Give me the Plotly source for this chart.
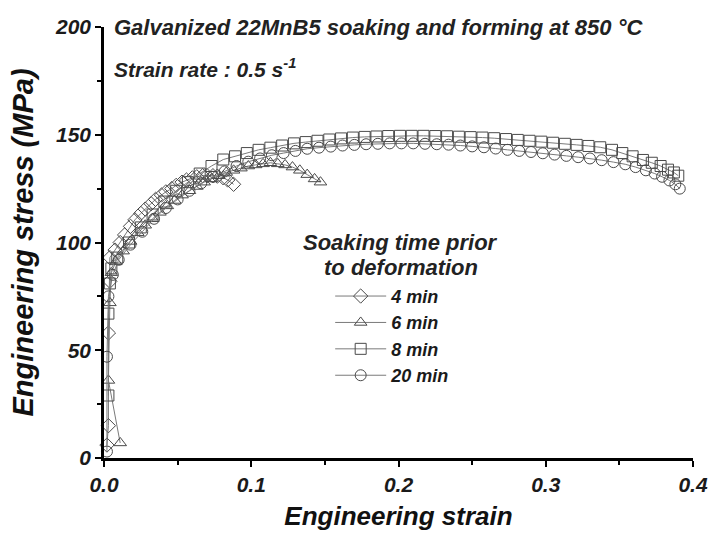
import plotly.graph_objects as go

# ---- data ----
strain_4 = [0.002, 0.003, 0.003, 0.004, 0.004, 0.0075, 0.011, 0.014, 0.018, 0.021,
            0.025, 0.028, 0.032, 0.035, 0.039, 0.042, 0.046, 0.049, 0.053, 0.056,
            0.060, 0.063, 0.067, 0.070, 0.074, 0.077, 0.081, 0.084, 0.088]
stress_4 = [6, 15, 58, 82, 93, 96.5, 100, 103.5, 107.5, 110.5,
            113.5, 115.5, 118, 120, 122, 123.5, 125, 126.5, 128, 129,
            130, 130.5, 131, 131, 131, 130.8, 130, 129, 127]

strain_6 = [0.011, 0.003, 0.004, 0.005,
            0.008, 0.013, 0.018, 0.023, 0.028, 0.033, 0.038, 0.043, 0.048, 0.053,
            0.058, 0.063, 0.068, 0.073, 0.078, 0.083, 0.088, 0.093, 0.098, 0.103,
            0.108, 0.113, 0.118, 0.123, 0.128, 0.133, 0.138, 0.143, 0.147]
stress_6 = [7, 36, 72, 86,
            91, 96, 100.5, 104.5, 108, 111, 114, 117, 119.5, 122,
            124, 126, 128, 129.5, 131, 132.5, 133.5, 134.5, 135.5, 136,
            136.5, 137, 136.5, 136, 135, 133.5, 131.5, 129.5, 128]

strain_8 = [0.003, 0.003, 0.004, 0.005,
            0.009, 0.017, 0.025, 0.033, 0.041, 0.049, 0.057, 0.065, 0.073, 0.081,
            0.089, 0.097, 0.105, 0.113, 0.121, 0.129, 0.137, 0.145, 0.153, 0.161,
            0.169, 0.177, 0.185, 0.193, 0.201, 0.209, 0.217, 0.225, 0.233, 0.241,
            0.249, 0.257, 0.265, 0.273, 0.281, 0.289, 0.297, 0.305, 0.313, 0.321,
            0.329, 0.337, 0.345, 0.352, 0.359, 0.366, 0.372, 0.378, 0.383, 0.387, 0.390]
stress_8 = [29, 67, 81, 88,
            93, 100, 107, 113, 119, 124, 128, 132, 135.5, 138.5,
            140, 141.5, 143, 144, 145, 146, 146.6, 147.2, 147.8, 148.3,
            148.7, 149, 149.2, 149.4, 149.5, 149.5, 149.5, 149.4, 149.3, 149.1,
            148.9, 148.7, 148.4, 148, 147.6, 147.2, 146.8, 146.3, 145.8, 145.3,
            144.8, 144.2, 143, 141.5, 140, 138.3, 137, 135.5, 133.8, 132.5, 131]

strain_20 = [0.002, 0.002, 0.003, 0.006,
             0.010, 0.018, 0.026, 0.034, 0.042, 0.050, 0.058, 0.066, 0.074, 0.082,
             0.090, 0.098, 0.106, 0.114, 0.122, 0.130, 0.138, 0.146, 0.154, 0.162,
             0.170, 0.178, 0.186, 0.194, 0.202, 0.210, 0.218, 0.226, 0.234, 0.242,
             0.250, 0.258, 0.266, 0.274, 0.282, 0.290, 0.298, 0.306, 0.314, 0.322,
             0.330, 0.338, 0.346, 0.354, 0.361, 0.368, 0.374, 0.379, 0.384, 0.388, 0.391]
stress_20 = [3, 47, 75, 85,
             92, 99, 105, 111, 116, 120, 124, 127.5, 130.5, 133,
             135.5, 137.5, 139, 140.5, 141.5, 142.5, 143.5, 144, 144.5, 145,
             145.3, 145.6, 145.8, 146, 146, 146, 145.8, 145.6, 145.4, 145,
             144.6, 144.2, 143.6, 143, 142.5, 142, 141.4, 140.8, 140.2, 139.6,
             139, 138.2, 137.3, 136.3, 135, 133.5, 132, 130.5, 128.8, 127, 125]

series_names = ["4 min", "6 min", "8 min", "20 min"]
series_symbols = ["diamond-open", "triangle-up-open", "square-open", "circle-open"]
x_ticks = [0.0, 0.1, 0.2, 0.3, 0.4]
x_ticktext = ["0.0", "0.1", "0.2", "0.3", "0.4"]
y_ticks = [0, 50, 100, 150, 200]

FONT = "Liberation Sans, Arial, sans-serif"
MK = "#4a4a4a"

fig = go.Figure()
for i, (xs, ys) in enumerate([(strain_4, stress_4), (strain_6, stress_6),
                              (strain_8, stress_8), (strain_20, stress_20)]):
    fig.add_trace(go.Scatter(
        x=xs, y=ys, name=series_names[i], mode="lines+markers",
        line=dict(color="#7a7a7a", width=1),
        marker=dict(symbol=series_symbols[i], size=11, color=MK,
                    line=dict(color=MK, width=1)),
        cliponaxis=False,
    ))

def bi(size, color="#1a1a1a"):
    return dict(family=FONT, size=size, color=color, weight="bold", style="italic")

fig.update_layout(
    width=713, height=534,
    margin=dict(l=104, r=20, t=27, b=76, autoexpand=False),
    paper_bgcolor="white", plot_bgcolor="white",
    showlegend=True,
    legend=dict(x=0.384, y=0.418, xanchor="left", yanchor="top",
                bgcolor="rgba(0,0,0,0)", itemwidth=51, tracegroupgap=0,
                font=bi(18)),
    xaxis=dict(range=[0, 0.4], tickvals=x_ticks, ticktext=x_ticktext, automargin=False,
               showgrid=False, zeroline=False, showline=True, linewidth=2.5,
               linecolor="black", ticks="outside", ticklen=6, tickwidth=2,
               tickcolor="black", tickfont=bi(21),
               minor=dict(dtick=0.05, ticks="outside", ticklen=4, tickwidth=2, tickcolor="black"),
               title=dict(text="Engineering strain", font=bi(26, "#111"), standoff=12)),
    yaxis=dict(range=[0, 200], tickvals=y_ticks, automargin=False,
               showgrid=False, zeroline=False, showline=True, linewidth=2.5,
               linecolor="black", ticks="outside", ticklen=6, tickwidth=2,
               tickcolor="black", tickfont=bi(21),
               minor=dict(dtick=25, ticks="outside", ticklen=4, tickwidth=2, tickcolor="black"),
               title=dict(text="Engineering stress (MPa)", font=bi(29, "#111"), standoff=13)),
)

fig.add_annotation(x=0.0136, y=1.0, xref="paper", yref="paper", xanchor="left", yanchor="middle",
                   text="Galvanized 22MnB5 soaking and forming at 850 °C", showarrow=False,
                   font=bi(22, "#222"))
fig.add_annotation(x=0.0136, y=0.905, xref="paper", yref="paper", xanchor="left", yanchor="middle",
                   text="Strain rate : 0.5 s<sup>-1</sup>", showarrow=False,
                   font=bi(21, "#222"))
fig.add_annotation(x=0.504, y=0.499, xref="paper", yref="paper", xanchor="center", yanchor="middle",
                   text="Soaking time prior", showarrow=False, font=bi(22, "#222"))
fig.add_annotation(x=0.504, y=0.441, xref="paper", yref="paper", xanchor="center", yanchor="middle",
                   text="to deformation", showarrow=False, font=bi(22, "#222"))

fig.write_html("out.html", config={"displayModeBar": False},
               post_script="document.body.style.margin='0';document.body.style.overflow='hidden';")
